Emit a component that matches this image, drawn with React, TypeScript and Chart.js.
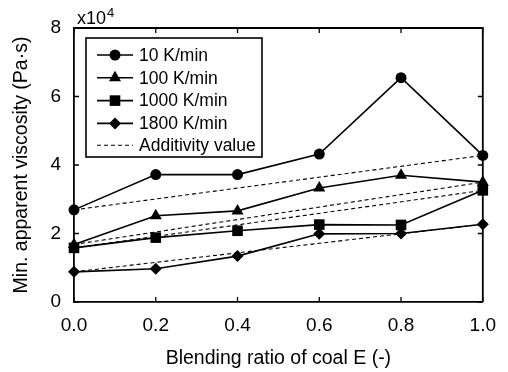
import React, { useEffect, useRef } from 'react';
import { Chart, registerables } from 'chart.js';

Chart.register(...registerables);

// ---- data ----
const ratios = [0, 0.2, 0.4, 0.6, 0.8, 1.0];
const v10 = [2.69, 3.72, 3.72, 4.32, 6.55, 4.28];
const v100 = [1.68, 2.52, 2.66, 3.33, 3.7, 3.5];
const v1000 = [1.58, 1.88, 2.08, 2.26, 2.25, 3.26];
const v1800 = [0.88, 0.97, 1.34, 1.99, 2.0, 2.27];
const seriesLabels = ['10 K/min', '100 K/min', '1000 K/min', '1800 K/min'];
const additivityLabel = 'Additivity value';
const xTicks = [0, 0.2, 0.4, 0.6, 0.8, 1.0];
const yTicks = [0, 2, 4, 6, 8];
const xTitle = 'Blending ratio of coal E (-)';
const yTitle = 'Min. apparent viscosity (Pa·s)';

const seriesValues = [v10, v100, v1000, v1800];
const markerStyles = ['circle', 'triangle', 'rect', 'rectRot'];
const markerRadii = [5.5, 7, 7.5, 6];

const FONT = '"Liberation Sans", Arial, Helvetica, sans-serif';

function drawMarker(ctx: CanvasRenderingContext2D, style: string, x: number, y: number, r: number) {
  ctx.beginPath();
  if (style === 'circle') {
    ctx.arc(x, y, r, 0, Math.PI * 2);
  } else if (style === 'triangle') {
    for (let k = 0; k < 3; k++) {
      const a = (k * 2 * Math.PI) / 3;
      const px = x + Math.sin(a) * r;
      const py = y - Math.cos(a) * r;
      if (k === 0) ctx.moveTo(px, py);
      else ctx.lineTo(px, py);
    }
    ctx.closePath();
  } else if (style === 'rect') {
    const s = r * Math.SQRT1_2;
    ctx.rect(x - s, y - s, 2 * s, 2 * s);
  } else {
    ctx.moveTo(x, y - r);
    ctx.lineTo(x + r, y);
    ctx.lineTo(x, y + r);
    ctx.lineTo(x - r, y);
    ctx.closePath();
  }
  ctx.fill();
}

const decorPlugin = {
  id: 'decor',
  afterDraw(chart: any) {
    const { ctx, chartArea } = chart;
    const { left, right, top, bottom } = chartArea;
    const xs = chart.scales.x;
    const ys = chart.scales.y;
    ctx.save();
    ctx.strokeStyle = '#000';
    ctx.lineWidth = 1.8;
    // frame top/right
    ctx.beginPath();
    ctx.moveTo(left, top);
    ctx.lineTo(right, top);
    ctx.lineTo(right, bottom);
    ctx.stroke();
    // inward ticks
    ctx.lineWidth = 1.3;
    const tl = 5;
    ctx.beginPath();
    xTicks.forEach((v) => {
      const px = xs.getPixelForValue(v);
      ctx.moveTo(px, bottom);
      ctx.lineTo(px, bottom - tl);
      ctx.moveTo(px, top);
      ctx.lineTo(px, top + tl);
    });
    yTicks.forEach((v) => {
      const py = ys.getPixelForValue(v);
      ctx.moveTo(left, py);
      ctx.lineTo(left + tl, py);
      ctx.moveTo(right, py);
      ctx.lineTo(right - tl, py);
    });
    ctx.stroke();

    // exponent label
    ctx.fillStyle = '#000';
    ctx.textBaseline = 'alphabetic';
    ctx.textAlign = 'left';
    ctx.font = `18px ${FONT}`;
    ctx.fillText('x10', left + 3, top - 4);
    const w = ctx.measureText('x10').width;
    ctx.font = `13px ${FONT}`;
    ctx.fillText('4', left + 3 + w + 1, top - 11);

    // legend box
    const bx = left + 12;
    const by = top + 10;
    const bw = 176;
    const bh = 119;
    ctx.fillStyle = '#fff';
    ctx.fillRect(bx, by, bw, bh);
    ctx.lineWidth = 1.6;
    ctx.strokeStyle = '#000';
    ctx.strokeRect(bx, by, bw, bh);
    ctx.fillStyle = '#000';
    ctx.font = `17.5px ${FONT}`;
    ctx.textBaseline = 'middle';
    const rowH = 22.8;
    const lx0 = bx + 11;
    const lx1 = bx + 47;
    const tx = bx + 53;
    seriesLabels.forEach((lab, i) => {
      const y = by + 17 + i * rowH;
      ctx.lineWidth = 1.6;
      ctx.setLineDash([]);
      ctx.beginPath();
      ctx.moveTo(lx0, y);
      ctx.lineTo(lx1, y);
      ctx.stroke();
      drawMarker(ctx, markerStyles[i], (lx0 + lx1) / 2, y, markerRadii[i]);
      ctx.fillText(lab, tx, y + 1);
    });
    const ya = by + 17 + 4 * rowH - 1;
    ctx.lineWidth = 1.1;
    ctx.setLineDash([4, 3]);
    ctx.beginPath();
    ctx.moveTo(lx0, ya);
    ctx.lineTo(lx1, ya);
    ctx.stroke();
    ctx.setLineDash([]);
    ctx.fillText(additivityLabel, tx, ya + 1);
    ctx.restore();
  },
};

export default function App() {
  const ref = useRef<HTMLCanvasElement | null>(null);
  useEffect(() => {
    const canvas = ref.current;
    if (!canvas) return;
    const seriesDatasets = seriesValues.map((vals, i) => ({
      label: seriesLabels[i],
      data: ratios.map((x, k) => ({ x, y: vals[k] })),
      borderColor: '#000',
      backgroundColor: '#000',
      borderWidth: 1.6,
      pointStyle: markerStyles[i] as any,
      pointRadius: markerRadii[i],
      pointBackgroundColor: '#000',
      pointBorderColor: '#000',
      pointBorderWidth: 0,
      tension: 0,
      clip: false as any,
    }));
    const addDatasets = seriesValues.map((vals) => ({
      label: additivityLabel,
      data: [
        { x: ratios[0], y: vals[0] },
        { x: ratios[ratios.length - 1], y: vals[vals.length - 1] },
      ],
      borderColor: '#000',
      borderWidth: 1.1,
      borderDash: [4, 3],
      pointRadius: 0,
      tension: 0,
      clip: false as any,
    }));
    const chart = new Chart(canvas, {
      type: 'line',
      data: { datasets: [...addDatasets, ...seriesDatasets] as any },
      options: {
        responsive: false,
        animation: false,
        layout: { padding: { left: 0, right: 22, top: 28, bottom: 0 } },
        plugins: { legend: { display: false }, tooltip: { enabled: false } },
        scales: {
          x: {
            type: 'linear',
            min: 0,
            max: 1,
            afterBuildTicks: (s: any) => {
              s.ticks = xTicks.map((v) => ({ value: v }));
            },
            afterFit: (s: any) => {
              s.height = 70;
            },
            grid: { display: false, drawTicks: false },
            border: { display: true, color: '#000', width: 1.8 },
            ticks: {
              color: '#000',
              padding: 12,
              font: { family: FONT, size: 19 },
              callback: (v: any) => Number(v).toFixed(1),
              maxRotation: 0,
            },
            title: {
              display: true,
              text: xTitle,
              color: '#000',
              font: { family: FONT, size: 19.5 },
              padding: { top: 0, bottom: 2 },
            },
          },
          y: {
            type: 'linear',
            min: 0,
            max: 8,
            afterBuildTicks: (s: any) => {
              s.ticks = yTicks.map((v) => ({ value: v }));
            },
            afterFit: (s: any) => {
              s.width = 74;
            },
            grid: { display: false, drawTicks: false },
            border: { display: true, color: '#000', width: 1.8 },
            ticks: {
              color: '#000',
              padding: 13,
              font: { family: FONT, size: 19 },
            },
            title: {
              display: true,
              text: yTitle,
              color: '#000',
              font: { family: FONT, size: 19.5 },
              padding: { top: 10, bottom: 0 },
            },
          },
        },
      },
      plugins: [decorPlugin],
    });
    return () => chart.destroy();
  }, []);
  return (
    <div style={{ position: 'fixed', left: 0, top: 0, width: 508, height: 372, background: '#fff' }}>
      <canvas ref={ref} width={508} height={372} style={{ width: 508, height: 372, display: 'block' }} />
    </div>
  );
}
